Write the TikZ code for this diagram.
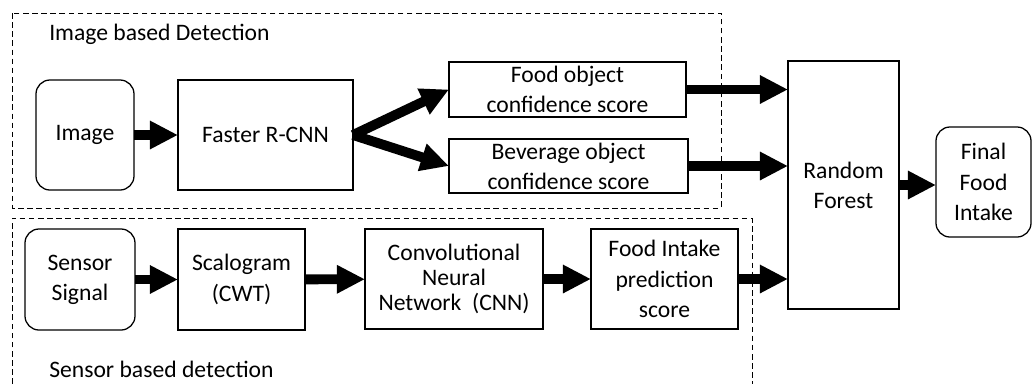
\documentclass[tikz,border=0pt]{standalone}
\usepackage{fontspec}
\setmainfont{Carlito}
\usetikzlibrary{arrows.meta}
\begin{document}
\begin{tikzpicture}[x=0.025cm,y=-0.025cm,
  box/.style={draw,line width=0.9pt,inner sep=0pt,outer sep=0pt,align=center,
    font=\fontsize{16.8}{21.5}\selectfont},
  rbox/.style={box,rounded corners=10pt},
  grp/.style={draw,line width=0.7pt,dash pattern=on 4pt off 2.5pt},
  flow/.style={line width=7pt,-{Triangle[length=20pt,width=19pt]}},
  lbl/.style={anchor=west,inner sep=0pt,font=\fontsize{16.8}{21.5}\selectfont}]
\useasboundingbox (0,0) rectangle (1032,384);
% groups
\draw[grp] (12,13) rectangle (721,208);
\draw[grp] (12,384) -- (12,218) -- (752,218) -- (752,384);
\node[lbl] (lt) at (49,34) {Image based Detection};
\node[lbl] (lb) at (49,369) {Sensor based detection};
% nodes
\node[rbox,minimum width=2.45cm,minimum height=2.75cm] (img) at (85,135) {Image};
\node[box,minimum width=4.375cm,minimum height=2.75cm] (frcnn) at (265.5,135) {Faster R-CNN};
\node[box,minimum width=5.925cm,minimum height=1.375cm] (food) at (567.5,89.5) {Food object\\confidence score};
\node[box,minimum width=5.975cm,minimum height=1.35cm] (bev) at (568.5,166) {Beverage object\\confidence score};
\node[box,minimum width=2.775cm,minimum height=6.2cm] (rf) at (843.5,185) {Random\\Forest};
\node[rbox,minimum width=2.375cm,minimum height=2.75cm] (fin) at (983.5,182) {Final\\Food\\Intake};
\node[rbox,minimum width=2.75cm,minimum height=2.525cm] (sen) at (80,279.5) {Sensor\\Signal};
\node[box,minimum width=3.175cm,minimum height=2.525cm] (scal) at (241.5,279.5) {Scalogram\\(CWT)};
\node[box,minimum width=4.45cm,minimum height=2.5cm,font=\fontsize{16.8}{18}\selectfont] (cnn) at (454,279) {Convolutional\\Neural\\Network~~(CNN)};
\node[box,minimum width=3.675cm,minimum height=2.5cm] (pred) at (664.5,279) {Food Intake\\prediction\\score};
% connectors
\draw[flow] (img) -- (frcnn);
\draw[flow] (frcnn.east) -- (food.west);
\draw[flow] (frcnn.east) -- (bev.west);
\draw[flow] (food.east) -- (food.east -| rf.west);
\draw[flow] (bev.east) -- (bev.east -| rf.west);
\draw[flow] (rf.east) -- (rf.east -| fin.west);
\draw[flow] (sen) -- (scal);
\draw[flow] (scal) -- (cnn);
\draw[flow] (cnn) -- (pred);
\draw[flow] (pred.east) -- (pred.east -| rf.west);
\end{tikzpicture}
\end{document}
